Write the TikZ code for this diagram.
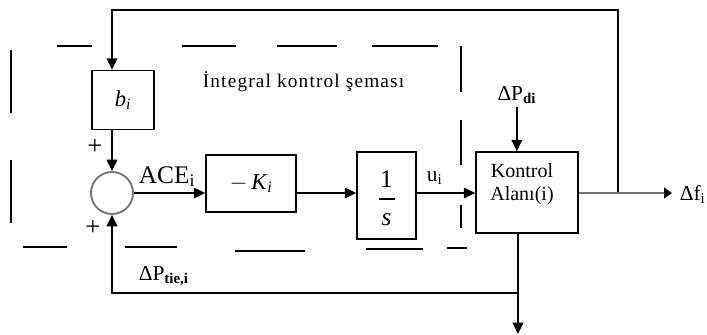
\documentclass[tikz,border=0pt]{standalone}
\usepackage{fontspec}
\setmainfont{Liberation Serif}
\newfontfamily\spacedfont[LetterSpace=6]{Liberation Serif}
\usetikzlibrary{arrows.meta,positioning,calc}

\begin{document}
\begin{tikzpicture}[
  x=0.75pt, y=-0.75pt,
  line width=1.25pt,
  block/.style={draw, line width=1.25pt, inner sep=0pt},
  sumnode/.style={draw=black!55, circle, line width=1.4pt, minimum size=31.5pt, inner sep=0pt},
  lbl/.style={inner sep=0pt, font=\fontsize{16}{18}\selectfont},
  sign/.style={inner sep=0pt, font=\fontsize{20}{20}\selectfont},
  >={Triangle[length=8.5pt, width=8pt]}
]
\useasboundingbox (0,0) rectangle (707,335);

% dashed frame of the integral controller
\foreach \a/\b in {57/92, 182/236, 277/337, 372/438}
  \draw (\a,46) -- (\b,46);
\foreach \a/\b/\y in {23/67/247, 125/177/247, 235/305/251, 366/423/249, 447/467/248}
  \draw (\a,\y) -- (\b,\y);
\foreach \a/\b in {50/113, 160/223}
  \draw (11,\a) -- (11,\b);
\foreach \a/\b in {46/92, 120/165, 205/228}
  \draw (461,\a) -- (461,\b);

% blocks
\node[block, minimum width=46.5pt, minimum height=44.25pt, font=\fontsize{17}{17}\selectfont] (bbox) at (123,100) {\textit{b}\textsubscript{\textit{i}}};
\node[sumnode] (sum) at (112,193) {};
\node[block, minimum width=67.5pt, minimum height=42.75pt, font=\fontsize{17}{17}\selectfont] (kbox) at (251,183.5) {$-$\,\textit{K}\textsubscript{\textit{i}}};
\node[block, minimum width=44.25pt, minimum height=65.25pt] (intbox) at (386.5,195.5) {};
\node[inner sep=0pt, font=\fontsize{19}{19}\selectfont] (one) at (386.5,179) {1};
\node[inner sep=0pt, font=\fontsize{19}{19}\selectfont] (den) at (386.5,220) {\textit{s}};
\draw[line width=1.1pt] ($(intbox.center)+(-8,3.5)$) -- ++(16,0);
\node[block, minimum width=76.5pt, minimum height=60.75pt] (area) at (527,192.5) {};
\node[inner sep=0pt, align=center, font=\fontsize{15}{17.5}\selectfont] (areatext) at (522,184) {Kontrol\\Alanı(i)};

% labels
\node[inner sep=0pt, anchor=base west, font=\spacedfont\fontsize{14.5}{16}\selectfont] (title) at (202,88) {İntegral kontrol şeması};
\node[inner sep=0pt, anchor=base west, font=\fontsize{19}{19}\selectfont] (ace) at (138,183) {ACE\textsubscript{i}};
\node[lbl, anchor=base west] (ui) at (426,181) {u\textsubscript{i}};
\node[lbl, anchor=base west, inner sep=2pt] (dpd) at (494,100) {ΔP\textsubscript{\textbf{di}}};
\node[lbl, anchor=base west] (dpt) at (138,280) {ΔP\textsubscript{\textbf{tie,i}}};
\node[lbl, anchor=base west] (df) at (679,200) {Δf\textsubscript{i}};
\node[sign] (plustop) at (95,147) {+};
\node[sign] (plusbot) at (93,228) {+};

% connectors
\coordinate (split) at (618,193);
\coordinate (fbtop) at (618,10);
\coordinate (tap) at (518,293);
\coordinate (out) at (672,193);
\coordinate (bottomend) at (518,334);

\draw[->] (split) -- (fbtop) -| (bbox.north -| sum);
\draw[->] (bbox.south -| sum) -- (sum.north);
\draw[->] (sum.east) -- (sum.east -| kbox.west);
\draw[->] (kbox.east |- sum) -- (intbox.west |- sum);
\draw[->] (intbox.east |- sum) -- (area.west |- sum);
\draw[-{Triangle[length=6pt, width=8pt, color=black]}, black!55, line width=2.2pt] (area.east |- sum) -- (out);
\draw[->] (dpd.south) -- (dpd.south |- area.north);
\draw[->] (area.south -| tap) -- (bottomend);
\draw[->] (tap) -| (sum.south);

\end{tikzpicture}
\end{document}
